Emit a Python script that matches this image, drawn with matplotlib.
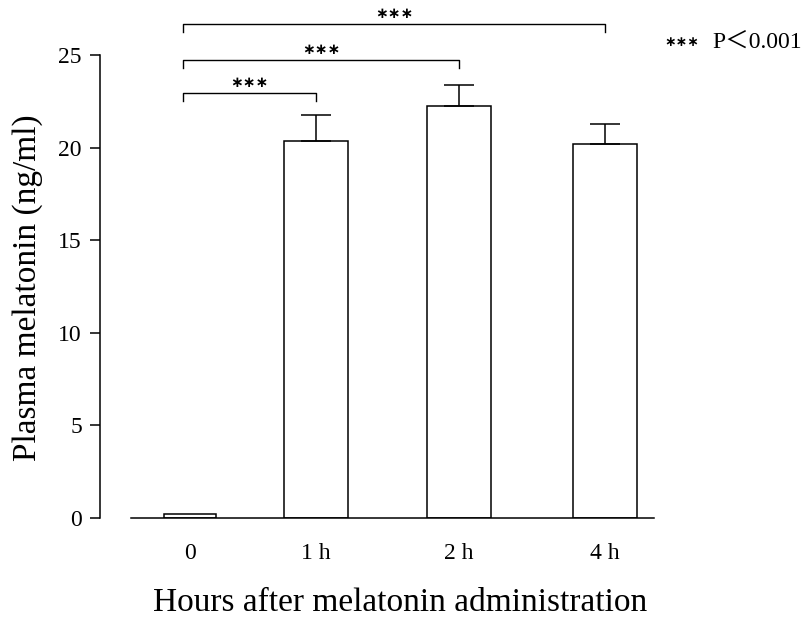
import matplotlib
matplotlib.use("Agg")
import matplotlib.pyplot as plt

categories = ["0", "1 h", "2 h", "4 h"]
values = [0.2, 20.35, 22.25, 20.2]
errors = [0.0, 1.4, 1.15, 1.1]
sig_pairs = [(0, 1), (0, 2), (0, 3)]
sig_labels = ["∗∗∗", "∗∗∗", "∗∗∗"]
yticks = [0, 5, 10, 15, 20, 25]

# layout (not data)
positions = [1.90, 3.16, 4.59, 6.05]
widths = [0.52, 0.64, 0.64, 0.64]
bracket_y = [22.95, 24.73, 26.67]

plt.rcParams['font.family'] = ['Liberation Serif', 'Noto Sans CJK JP', 'DejaVu Sans']

fig = plt.figure(figsize=(8.06, 6.26), dpi=100)
W, H = 806, 626
ax = fig.add_axes([100 / W, 1 - 518 / H, (654 - 100) / W, (518 - 55) / H])

ax.bar(positions, values, width=widths, color="white", edgecolor="black", linewidth=1.1, zorder=2)
ax.errorbar(positions[1:], values[1:], yerr=[[0] * 3, errors[1:]], fmt="none", ecolor="black",
            elinewidth=1.1, capsize=11, capthick=1.1, zorder=3)

ax.set_xlim(1.00, 6.54)
ax.set_ylim(0, 25)
ax.spines['top'].set_visible(False)
ax.spines['right'].set_visible(False)
ax.spines['bottom'].set_bounds(1.31, 6.54)
for s in ['left', 'bottom']:
    ax.spines[s].set_linewidth(1.1)

ax.set_yticks(yticks)
ax.set_yticklabels([str(t) for t in yticks], fontsize=17)
ax.tick_params(axis='y', length=7, width=1.1, pad=6)
ax.set_xticks(positions)
ax.set_xticklabels(categories, fontsize=17)
ax.tick_params(axis='x', length=0, pad=18)

ax.set_ylabel("Plasma melatonin (ng/ml)", fontsize=24, va="center")
ax.yaxis.set_label_coords((28 - 100) / (654 - 100), (518 - 288) / (518 - 55))
ax.set_xlabel("Hours after melatonin administration", fontsize=24, va="center")
ax.xaxis.set_label_coords((400 - 100) / (654 - 100), (518 - 603) / (518 - 55))

drop = 0.43
for (i, j), lab, yb in zip(sig_pairs, sig_labels, bracket_y):
    x1, x2 = positions[i] - 0.07, positions[j]
    ax.plot([x1, x1, x2, x2], [yb - drop, yb, yb, yb - drop], color="black", lw=1.0, clip_on=False)
    ax.text((x1 + x2) / 2, yb + 0.55, lab, ha="center", va="center", fontsize=11,
            family="DejaVu Sans", fontweight="bold", clip_on=False)

fig.text(682 / W, 1 - 42 / H, "∗∗∗", fontsize=10, family="DejaVu Sans", fontweight="bold",
         ha="center", va="center")
fig.text(712 / W, 1 - 42 / H, "P＜0.001", fontsize=17, ha="left", va="center")

fig.savefig("out.png", dpi=100)
